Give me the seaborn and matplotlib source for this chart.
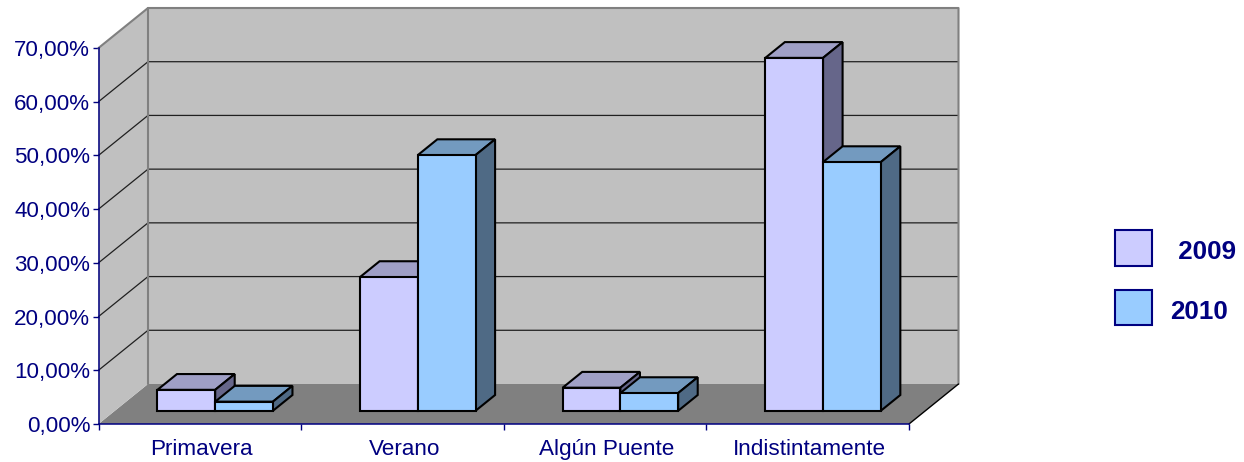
import pandas as pd
import matplotlib
matplotlib.use("Agg")
import matplotlib.pyplot as plt
from matplotlib.patches import Patch, Polygon
import seaborn as sns

# values
categories = ["Primavera", "Verano", "Algún Puente", "Indistintamente"]
values_2009 = [3.9, 24.9, 4.3, 65.7]
values_2010 = [1.7, 47.6, 3.3, 46.3]
years = ["2009", "2010"]
legend_labels = [" 2009", "2010"]
y_ticks = [0, 10, 20, 30, 40, 50, 60, 70]

NAVY = "#000080"
WALL = "#C0C0C0"
FLOOR = "#808080"
EDGE = "#808080"
FRONT = {"2009": "#CCCCFF", "2010": "#99CCFF"}
TOP = {"2009": "#9F9FC6", "2010": "#739ABF"}
SIDE = {"2009": "#66668A", "2010": "#4F6A85"}

# fake 3d: how far one full depth of the chart box moves in data units
DX = 49.5 / 202.6
DY = 40 / 5.371
BAR_NEAR_X = 0.31
BAR_NEAR_Y = 0.33
BAR_DEPTH = 0.395

sns.set_theme(style="white")
plt.rcParams["font.family"] = ["Liberation Sans", "DejaVu Sans"]

df = pd.DataFrame({
    "category": categories * 2,
    "year": [years[0]] * 4 + [years[1]] * 4,
    "value": values_2009 + values_2010,
})

W, H = 1244, 462
fig = plt.figure(figsize=(W / 100, H / 100), dpi=100, facecolor="white")
ax = fig.add_axes([98.5 / W, (H - 424) / H, 810.5 / W, 376 / H])
ax.patch.set_visible(False)

sns.barplot(data=df, x="category", y="value", hue="year", palette=FRONT,
            hue_order=years, order=categories, width=0.57, gap=0, saturation=1,
            edgecolor="black", linewidth=1.5, legend=False, ax=ax)
ax.set_xlim(-0.5, 3.5)
ax.set_ylim(0, 70)


def at_depth(x, y, d):
    return (x + d * DX, y + d * DY)


def face(points, color, z, edge="none", lw=0):
    ax.add_patch(Polygon(points, closed=True, facecolor=color, edgecolor=edge,
                         linewidth=lw, zorder=z, clip_on=False, joinstyle="miter"))


xl, xr = ax.get_xlim()
ytop = y_ticks[-1]

# chart box: floor, left wall, back wall
face([at_depth(xl, 0, 0), at_depth(xr, 0, 0), at_depth(xr, 0, 1), at_depth(xl, 0, 1)], FLOOR, 0.5)
face([at_depth(xl, 0, 0), at_depth(xl, 0, 1), at_depth(xl, ytop, 1), at_depth(xl, ytop, 0)], WALL, 0.5)
face([at_depth(xl, 0, 1), at_depth(xr, 0, 1), at_depth(xr, ytop, 1), at_depth(xl, ytop, 1)], WALL, 0.6)

for t in y_ticks[1:-1]:
    a, b, c = at_depth(xl, t, 0), at_depth(xl, t, 1), at_depth(xr, t, 1)
    ax.plot([a[0], b[0], c[0]], [a[1], b[1], c[1]], color="#202020", lw=0.9,
            zorder=0.8, clip_on=False)

# grey outline of the walls, black edge of the floor
outline = [at_depth(xl, ytop, 0), at_depth(xl, ytop, 1), at_depth(xr, ytop, 1), at_depth(xr, 0, 1)]
ax.plot(*zip(*outline), color=EDGE, lw=1.5, zorder=0.9, clip_on=False)
ax.plot(*zip(at_depth(xl, 0, 1), at_depth(xl, ytop, 1)), color=EDGE, lw=1.5, zorder=0.9, clip_on=False)
ax.plot(*zip(at_depth(xr, 0, 0), at_depth(xr, 0, 1)), color="black", lw=1.0, zorder=0.9, clip_on=False)

# bars: move the fronts into the box, then add top and side faces
bars = list(ax.patches)[:8]
for i, bar in enumerate(bars):
    year = years[i // 4]
    z = 3 + i // 4
    x0 = bar.get_x() + BAR_NEAR_X * DX
    y0 = bar.get_y() + BAR_NEAR_Y * DY
    w, h = bar.get_width(), bar.get_height()
    bar.set_x(x0)
    bar.set_y(y0)
    bar.set_zorder(z + 0.2)
    bar.set_clip_on(False)
    x1, y1 = x0 + w, y0 + h
    face([(x0, y1), (x1, y1), at_depth(x1, y1, BAR_DEPTH), at_depth(x0, y1, BAR_DEPTH)],
         TOP[year], z, "black", 1.5)
    face([(x1, y0), at_depth(x1, y0, BAR_DEPTH), at_depth(x1, y1, BAR_DEPTH), (x1, y1)],
         SIDE[year], z, "black", 1.5)

# axes
sns.despine(ax=ax, top=True, right=True)
ax.spines["left"].set_color(NAVY)
ax.spines["bottom"].set_color(NAVY)
ax.spines["left"].set_linewidth(1.1)
ax.spines["bottom"].set_linewidth(1.1)
ax.spines["left"].set_zorder(5)
ax.spines["bottom"].set_zorder(5)

ax.set_xlabel("")
ax.set_ylabel("")
ax.set_yticks(y_ticks)
ax.set_yticklabels([f"{t},00%" for t in y_ticks], fontsize=16.1, color=NAVY)
ax.set_xticks([-0.5, 0.5, 1.5, 2.5, 3.5])
ax.set_xticklabels([])
ax.set_xticks([i + 0.01 for i in range(4)], minor=True)
ax.set_xticklabels(categories, minor=True, fontsize=16.2, color=NAVY)
ax.tick_params(axis="y", left=True, length=4, width=1, color=NAVY, pad=2)
ax.tick_params(axis="x", which="major", bottom=True, length=4, width=1, color=NAVY)
ax.tick_params(axis="x", which="minor", bottom=False, length=0, pad=11)

handles = [Patch(facecolor=FRONT[y], edgecolor=NAVY, linewidth=1.5) for y in years]
leg = fig.legend(handles, legend_labels, loc="upper left", bbox_to_anchor=(1114.5 / W, 1 - 230 / H),
                 frameon=False, borderpad=0, borderaxespad=0, handlelength=1.46, handleheight=1.73,
                 handletextpad=0.70, labelspacing=0.93,
                 prop={"size": 18.7, "weight": "bold"}, labelcolor=NAVY)
# labels sit a little below the middle of their swatch
for txt in leg.get_texts():
    txt.set_position((0, -3))

fig.savefig("out.png", dpi=100, facecolor="white")
